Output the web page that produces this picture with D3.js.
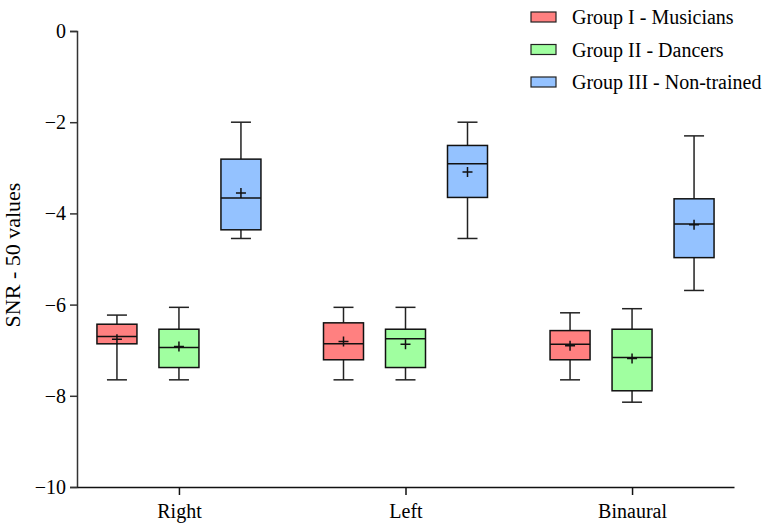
<!DOCTYPE html>
<html>
<head>
<meta charset="utf-8">
<script src="https://cdn.jsdelivr.net/npm/d3@7"></script>
<style>
  body { margin: 0; background: #fff; }
  svg text { font-family: "Liberation Serif", "Times New Roman", serif; }
</style>
</head>
<body>
<div id="chart"></div>
<script>
// conditions on the x axis
const conditions = ["Right", "Left", "Binaural"];
const groups = ["Group I - Musicians", "Group II - Dancers", "Group III - Non-trained"];
const colors = ["#ff8080", "#a0ffa0", "#94c2ff"];
const yTicks = [0, -2, -4, -6, -8, -10];

// box stats per condition: [min, q1, median, q3, max, mean]
const musicians = [
  [-7.65, -6.86, -6.70, -6.43, -6.23, -6.76],
  [-7.65, -7.21, -6.86, -6.40, -6.06, -6.81],
  [-7.65, -7.21, -6.87, -6.57, -6.18, -6.90]
];
const dancers = [
  [-7.65, -7.38, -6.94, -6.54, -6.06, -6.92],
  [-7.65, -7.38, -6.75, -6.54, -6.06, -6.87],
  [-8.14, -7.89, -7.16, -6.54, -6.09, -7.18]
];
const nonTrained = [
  [-4.55, -4.36, -3.66, -2.81, -2.00, -3.55],
  [-4.55, -3.65, -2.91, -2.51, -2.00, -3.09],
  [-5.69, -4.97, -4.23, -3.68, -2.30, -4.25]
];

const series = [musicians, dancers, nonTrained];

const W = 769, H = 529;
const margin = {top: 31, right: 35, bottom: 42, left: 77};
const width = W - margin.left - margin.right,
      height = H - margin.top - margin.bottom;

const svg = d3.select("#chart")
  .append("svg")
    .attr("width", W)
    .attr("height", H)
  .append("g")
    .attr("transform", `translate(${margin.left}, ${margin.top})`);

const x = d3.scalePoint()
  .domain(conditions)
  .range([0, width])
  .padding(0.45);

const y = d3.scaleLinear()
  .domain([-10, 0])
  .range([height, 0]);

const offset = 62, boxW = 40, capW = 20;

// y axis
const yAxis = svg.append("g")
  .call(d3.axisLeft(y).tickValues(yTicks).tickSize(7).tickPadding(4)
    .tickFormat(d => d === 0 ? "0" : "\u2212" + Math.abs(d)));
yAxis.attr("font-family", null);
yAxis.select(".domain").attr("stroke", "#333").attr("stroke-width", 1.5);
yAxis.selectAll(".tick line").attr("stroke", "#333").attr("stroke-width", 1.5);
yAxis.selectAll("text").attr("font-size", 20).attr("fill", "#000");

// x axis
const xAxis = svg.append("g")
  .attr("transform", `translate(0, ${height})`)
  .call(d3.axisBottom(x).tickSize(8).tickPadding(9).tickSizeOuter(0));
xAxis.attr("font-family", null);
xAxis.select(".domain").attr("stroke", "#111").attr("stroke-width", 1.5);
xAxis.selectAll(".tick line").attr("stroke", "#111").attr("stroke-width", 1.5);
xAxis.selectAll("text").attr("font-size", 20).attr("fill", "#000");

// y label
svg.append("text")
  .attr("transform", `translate(${-57}, ${height / 2 - 4}) rotate(-90)`)
  .attr("text-anchor", "middle")
  .attr("font-size", 22)
  .text("SNR - 50 values");

// boxes
series.forEach((s, gi) => {
  const g = svg.append("g");
  s.forEach((d, ci) => {
    const cx = x(conditions[ci]) + (gi - 1) * offset;
    const [mn, q1, med, q3, mx, mean] = d;
    // whiskers
    g.append("line").attr("x1", cx).attr("x2", cx).attr("y1", y(mx)).attr("y2", y(q3))
      .attr("stroke", "#222").attr("stroke-width", 1.5);
    g.append("line").attr("x1", cx).attr("x2", cx).attr("y1", y(q1)).attr("y2", y(mn))
      .attr("stroke", "#222").attr("stroke-width", 1.5);
    [mn, mx].forEach(v => {
      g.append("line").attr("x1", cx - capW / 2).attr("x2", cx + capW / 2)
        .attr("y1", y(v)).attr("y2", y(v))
        .attr("stroke", "#222").attr("stroke-width", 1.5);
    });
    g.append("rect")
      .attr("x", cx - boxW / 2).attr("width", boxW)
      .attr("y", y(q3)).attr("height", y(q1) - y(q3))
      .attr("fill", colors[gi]).attr("stroke", "#111").attr("stroke-width", 1.5);
    g.append("line").attr("x1", cx - boxW / 2).attr("x2", cx + boxW / 2)
      .attr("y1", y(med)).attr("y2", y(med))
      .attr("stroke", "#111").attr("stroke-width", 1.5);
    // mean marker
    g.append("path")
      .attr("d", `M${cx - 5},${y(mean)}h10M${cx},${y(mean) - 5}v10`)
      .attr("stroke", "#111").attr("stroke-width", 1.5);
  });
});

// legend
const legend = svg.append("g")
  .attr("transform", `translate(${531 - margin.left}, ${12 - margin.top})`);
groups.forEach((name, i) => {
  const row = legend.append("g").attr("transform", `translate(0, ${i * 32.5})`);
  row.append("rect").attr("width", 25).attr("height", 10)
    .attr("fill", colors[i]).attr("stroke", "#222").attr("stroke-width", 1.2);
  row.append("text").attr("x", 41).attr("y", 12)
    .attr("font-size", 20).text(name);
});
</script>
</body>
</html>
